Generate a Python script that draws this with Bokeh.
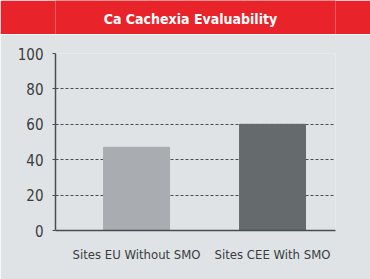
import numpy as np
from bokeh.plotting import figure
from bokeh.layouts import column
from bokeh.models import Range1d, FixedTicker, ColumnDataSource
from bokeh.core.properties import value
from bokeh.embed import file_html
from bokeh.resources import INLINE

title_text = "Ca Cachexia Evaluability"
categories = ["Sites EU Without SMO", "Sites CEE With SMO"]
values = [47, 60]
bar_colors = ["#a9acb0", "#656a6d"]
y_ticks = [0, 20, 40, 60, 80, 100]

FONT = "DejaVu Sans Condensed"
BG = "#dfe3e5"
RED = "#e8232a"

# title bar
t = figure(width=370, height=34, output_backend="svg", toolbar_location=None,
           x_range=Range1d(0, 1), y_range=Range1d(0, 1),
           x_axis_location=None, y_axis_location=None,
           min_border=0, min_border_left=0, min_border_right=0,
           min_border_top=0, min_border_bottom=0)
t.grid.visible = False
t.outline_line_color = None
t.background_fill_color = RED
t.border_fill_color = RED
t.text(x=[0.482], y=[0.47], text=[title_text], text_font=value(FONT),
       text_font_style="bold", text_font_size="14px", text_color="white",
       text_align="center", text_baseline="middle")

# main chart
xpos = np.arange(len(categories)) + 0.5
src = ColumnDataSource(dict(x=xpos, top=values, color=bar_colors))

p = figure(width=370, height=245, output_backend="svg", toolbar_location=None,
           x_range=Range1d(-0.096, 1.963), y_range=Range1d(0, 100),
           min_border_left=55, min_border_right=35, min_border_top=19,
           min_border_bottom=49)
p.background_fill_color = BG
p.border_fill_color = BG
p.outline_line_color = None

p.vbar(x="x", top="top", bottom=0, width=0.485, color="color", source=src)

p.yaxis.ticker = FixedTicker(ticks=y_ticks)
p.xaxis.ticker = FixedTicker(ticks=list(xpos))
p.xaxis.major_label_overrides = {float(x): c for x, c in zip(xpos, categories)}

for ax in (p.xaxis, p.yaxis):
    ax.axis_line_color = "#4a4d50"
    ax.axis_line_width = 1.5
    ax.major_tick_line_color = "#4a4d50"
    ax.minor_tick_line_color = None
    ax.major_label_text_font = FONT
    ax.major_label_text_color = "#3a3c3e"

p.yaxis.major_tick_out = 3
p.yaxis.major_tick_in = 0
p.yaxis.major_label_text_font_size = "15px"
p.yaxis.major_label_standoff = 9

p.xaxis.major_tick_out = 0
p.xaxis.major_tick_in = 0
p.xaxis.major_label_text_font_size = "13px"
p.xaxis.major_label_standoff = 16

p.xgrid.visible = False
p.ygrid.grid_line_color = "#4a4d50"
p.ygrid.grid_line_dash = "3 2"
p.ygrid.grid_line_width = 1

layout = column(t, p, spacing=0)
open("out.html", "w").write(file_html(layout, INLINE))
